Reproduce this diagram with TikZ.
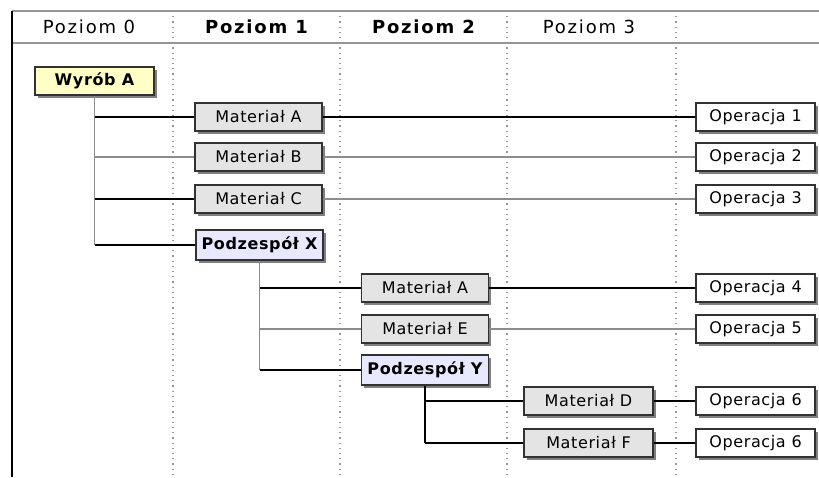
\documentclass[tikz,border=0pt]{standalone}
\usepackage{fontspec}
\newfontfamily\tabfont[LetterSpace=4]{DejaVu Sans}
\newfontfamily\headfont[LetterSpace=10]{DejaVu Sans}
\usetikzlibrary{shadows}
\definecolor{prodfill}{RGB}{255,255,198}
\definecolor{matfill}{RGB}{228,228,228}
\definecolor{asmfill}{RGB}{232,232,255}
\definecolor{rule}{RGB}{150,150,150}
\definecolor{edge}{RGB}{50,50,50}

\begin{document}
\begin{tikzpicture}[x=0.5pt,y=-0.5pt,
    part/.style={draw=edge,line width=0.65pt,inner sep=0pt,minimum height=14pt,
      font=\tabfont\fontsize{8}{9}\selectfont,
      drop shadow={shadow xshift=1.3pt,shadow yshift=-1.3pt,fill=black!50,opacity=1}},
    mat/.style={part,fill=matfill,minimum width=63.5pt},
    asm/.style={part,fill=asmfill,minimum width=63.5pt,minimum height=15pt,font=\tabfont\fontsize{8}{9}\selectfont\bfseries},
    prod/.style={part,fill=prodfill,minimum width=59.5pt,font=\tabfont\fontsize{8}{9}\selectfont\bfseries},
    op/.style={part,fill=white,minimum width=59.5pt},
    head/.style={font=\headfont\fontsize{9}{10}\selectfont},
    link/.style={black,line width=0.75pt},
    weak/.style={black!45,line width=0.55pt}]
  \useasboundingbox (0,0) rectangle (819,477);
  % table frame and level columns
  \draw[rule,line width=0.6pt] (12,11) -- (819,11);
  \draw[rule,line width=0.6pt] (12,43) -- (819,43);
  \foreach \x in {173,340,507,676}
    \draw[rule,dotted,line width=0.6pt] (\x,11) -- (\x,477);
  \draw[black,line width=0.8pt] (12,11) -- (12,477);
  \node[head] (h0) at (89,27) {Poziom 0};
  \node[head] (h1) at (256.5,27) {\bfseries Poziom 1};
  \node[head] (h2) at (423.5,27) {\bfseries Poziom 2};
  \node[head] (h3) at (589,27) {Poziom 3};

  % product tree
  \node[prod] (wyrob) at (94.5,81) {Wyrób A};
  \node[mat] (matA1) at (258.5,117) {Materiał A};
  \node[mat] (matB1) at (258.5,157) {Materiał B};
  \node[mat] (matC1) at (258.5,199) {Materiał C};
  \node[asm] (podX) at (259.5,245) {Podzespół X};
  \node[mat] (matA2) at (425,288) {Materiał A};
  \node[mat] (matE2) at (425,329) {Materiał E};
  \node[asm] (podY) at (425,370) {Podzespół Y};
  \node[mat,minimum width=64.5pt] (matD3) at (588.5,401) {Materiał D};
  \node[mat,minimum width=64.5pt] (matF3) at (588.5,443) {Materiał F};

  % operations
  \node[op] (op1) at (755.5,117) {Operacja 1};
  \node[op] (op2) at (755.5,157) {Operacja 2};
  \node[op] (op3) at (755.5,199) {Operacja 3};
  \node[op] (op4) at (755.5,288) {Operacja 4};
  \node[op] (op5) at (755.5,329) {Operacja 5};
  \node[op] (op6a) at (755.5,401) {Operacja 6};
  \node[op] (op6b) at (755.5,443) {Operacja 6};

  % trunks
  \draw[weak] (wyrob.south) -- (wyrob.south |- podX.west);
  \draw[weak] (podX.south) -- (podX.south |- podY.west);
  \draw[link] (podY.south) -- (podY.south |- matF3.west);
  % branches
  \draw[link] (wyrob.south |- matA1.west) -- (matA1.west);
  \draw[weak] (wyrob.south |- matB1.west) -- (matB1.west);
  \draw[link] (wyrob.south |- matC1.west) -- (matC1.west);
  \draw[link] (wyrob.south |- podX.west) -- (podX.west);
  \draw[link] (podX.south |- matA2.west) -- (matA2.west);
  \draw[weak] (podX.south |- matE2.west) -- (matE2.west);
  \draw[link] (podX.south |- podY.west) -- (podY.west);
  \draw[link] (podY.south |- matD3.west) -- (matD3.west);
  \draw[link] (podY.south |- matF3.west) -- (matF3.west);
  % material to operation
  \draw[link] (matA1) -- (op1);
  \draw[weak] (matB1) -- (op2);
  \draw[weak] (matC1) -- (op3);
  \draw[link] (matA2) -- (op4);
  \draw[weak] (matE2) -- (op5);
  \draw[link] (matD3) -- (op6a);
  \draw[link] (matF3) -- (op6b);
\end{tikzpicture}
\end{document}
